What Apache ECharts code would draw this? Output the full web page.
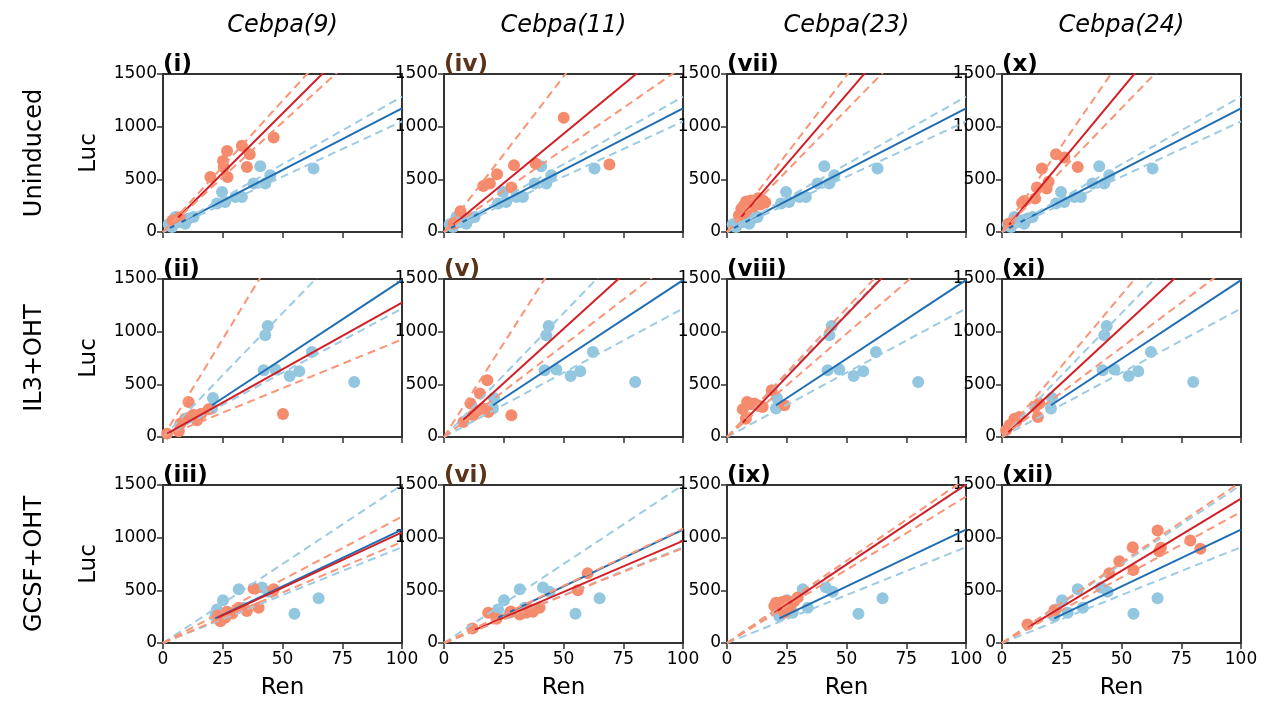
<!DOCTYPE html>
<html>
<head>
<meta charset="utf-8">
<script src="https://cdn.jsdelivr.net/npm/echarts@6/dist/echarts.min.js"></script>
<style>
  html, body { margin: 0; padding: 0; background: #fff; }
  #chart { width: 1271px; height: 715px; }
</style>
</head>
<body>
<div id="chart"></div>
<script>
// ---- data ----
const columns = ["Cebpa(9)", "Cebpa(11)", "Cebpa(23)", "Cebpa(24)"];
const rows = ["Uninduced", "IL3+OHT", "GCSF+OHT"];
const panelLabels = [
  ["(i)", "(iv)", "(vii)", "(x)"],
  ["(ii)", "(v)", "(viii)", "(xi)"],
  ["(iii)", "(vi)", "(ix)", "(xii)"],
];
const xTicks = [0, 25, 50, 75, 100];
const yTicks = [0, 500, 1000, 1500];

// control (blue) points, one set per row
const ctrlUninduced = [[2.4, 73], [3.8, 48], [5.2, 143], [6.6, 95], [8.6, 111], [9.3, 79], [10.7, 127], [12.8, 143],
  [22.6, 270], [24.7, 380], [26, 285], [30.3, 333], [33, 333], [37.9, 460], [40.7, 625], [42.8, 460], [44.9, 539], [63, 602]];
const ctrlIL3 = [[20.5, 270], [20.9, 371], [42.1, 634], [42.8, 967], [43.8, 1053], [47, 640], [53, 580], [57, 625], [62.3, 808], [80, 523]];
const ctrlGCSF = [[21.9, 255], [22.6, 319], [25.1, 405], [27.5, 287], [31.7, 511], [33.8, 335], [41.4, 527], [44.2, 486], [55, 278], [65.1, 424]];

// Cebpa (red) points, one set per panel
const c9Uninduced = [[4, 110], [7, 140], [19.8, 523], [25.1, 675], [25.4, 618], [26.8, 770], [27, 523], [33, 818], [35.1, 618], [36.3, 739], [46.3, 897]];
const c11Uninduced = [[4, 80], [6.9, 197], [16.4, 437], [19.2, 460], [22.2, 549], [28.2, 422], [29.3, 634], [38.3, 650], [50.1, 1084], [69.2, 640]];
const c23Uninduced = [[5, 160], [6, 220], [7, 250], [7, 180], [8, 200], [8, 290], [9, 260], [10, 300], [11, 240], [12, 280], [13, 320], [14, 260], [15, 300], [16, 280]];
const c24Uninduced = [[3, 80], [8.4, 276], [9.3, 295], [13.9, 317], [14.6, 422], [16.7, 602], [18.7, 412], [19.5, 476], [22.6, 739], [26.1, 707], [31.7, 618]];
const c9IL3 = [[1.7, 32], [6.6, 54], [7.3, 127], [9.3, 174], [10.7, 333], [11.5, 190], [12.8, 212], [14.2, 159], [16, 220], [19.1, 263], [50.2, 219]];
const c11IL3 = [[8.1, 143], [11.1, 317], [12.2, 206], [14, 250], [15, 412], [16.4, 270], [18.1, 539], [18.5, 238], [28.2, 206]];
const c23IL3 = [[6.6, 263], [7.9, 174], [8.4, 333], [10, 310], [11.4, 317], [13, 300], [14.9, 285], [18.7, 444], [24, 301]];
const c24IL3 = [[1.7, 63], [3.1, 111], [5.2, 174], [6, 150], [7.3, 190], [14, 290], [15, 190], [15.6, 317]];
const c9GCSF = [[23, 260], [24, 207], [26, 239], [26.8, 297], [29, 280], [31.7, 335], [35.1, 303], [37.9, 517], [40, 335], [46.3, 510]];
const c11GCSF = [[11.9, 137], [18.5, 287], [22, 230], [28, 300], [31.7, 271], [34.4, 287], [36, 320], [37.2, 297], [40, 335], [56, 501], [60.1, 661]];
const c23GCSF = [[19.8, 351], [20.5, 383], [21, 370], [22.6, 335], [23, 390], [24, 287], [24.7, 399], [25, 360], [26, 335], [27, 370], [28.2, 399], [29.6, 431]];
const c24GCSF = [[10.7, 176], [21.9, 310], [44.9, 661], [49.1, 776], [54.7, 910], [55, 693], [65.1, 1069], [65.8, 871], [66.5, 904], [78.8, 973], [83, 894]];

// fits: [slope, intercept, upper slope, lower slope]
const ctrlFits = [[11.7, 3, 12.85, 10.5], [14.95, -5, 23.5, 12.2], [10.8, -3, 15, 9.1]];
const cebpaFits = [
  [[22.6, -5, 24.9, 20.8], [18.7, -3, 29.5, 15.7], [26.4, -15, 29.7, 23.2], [27.3, -11, 32.9, 23.5]],
  [[12.65, 10, 37.2, 9.26], [20.6, -3, 35.6, 17.4], [23.6, -19, 24.4, 19.6], [21, -11, 27, 17]],
  [[10.5, 0, 12, 9.6], [9.7, 0, 10.85, 9.0], [15.2, -15, 15.6, 13.9], [13.7, 0, 15.3, 12.45]],
];

const ctrlPoints = [ctrlUninduced, ctrlIL3, ctrlGCSF];
const cebpaPoints = [
  [c9Uninduced, c11Uninduced, c23Uninduced, c24Uninduced],
  [c9IL3, c11IL3, c23IL3, c24IL3],
  [c9GCSF, c11GCSF, c23GCSF, c24GCSF],
];

// ---- layout / style ----
const FONT = "DejaVu Sans";
const lefts = [163, 444, 727, 1002];
const tops = [74, 279, 485];
const W = 239, H = 158;
const AXIS = "#333";
const RED_PT = "#f58b6d", BLUE_PT = "#93c6df";
const RED_LN = "#d21f26", BLUE_LN = "#1f6db3";
const RED_DS = "#fa9475", BLUE_DS = "#9ccbe3";
const labelColors = ["#000", "#5a3318", "#000", "#000"];

function fitLine(slope, intercept, x0) {
  return [[x0, slope * x0 + intercept], [100, slope * 100 + intercept]];
}
function minX(pts) {
  return Math.min(...pts.map(p => p[0]));
}

const grid = [], xAxis = [], yAxis = [], series = [], graphic = [];

rows.forEach((rowName, r) => {
  columns.forEach((colName, c) => {
    const i = grid.length;
    grid.push({
      left: lefts[c], top: tops[r], width: W, height: H,
      show: true, borderColor: AXIS, borderWidth: 2,
    });
    xAxis.push({
      gridIndex: i, type: "value", min: xTicks[0], max: xTicks[xTicks.length - 1],
      interval: xTicks[1] - xTicks[0],
      axisLine: { show: true, onZero: false, lineStyle: { color: AXIS, width: 2 } },
      axisTick: { show: true, length: 6, lineStyle: { color: AXIS, width: 1.5 } },
      axisLabel: { show: r === 2, color: "#000", fontSize: 17, fontFamily: FONT, margin: 8, formatter: v => String(v) },
      splitLine: { show: false },
      name: r === 2 ? "Ren" : "", nameLocation: "middle", nameGap: 34,
      nameTextStyle: { color: "#000", fontSize: 23, fontFamily: FONT },
    });
    yAxis.push({
      gridIndex: i, type: "value", min: yTicks[0], max: yTicks[yTicks.length - 1],
      interval: yTicks[1] - yTicks[0],
      axisLine: { show: true, onZero: false, lineStyle: { color: AXIS, width: 2 } },
      axisTick: { show: true, length: 6, lineStyle: { color: AXIS, width: 1.5 } },
      axisLabel: { color: "#000", fontSize: 17, fontFamily: FONT, margin: 6, formatter: v => String(v) },
      splitLine: { show: false },
      name: c === 0 ? "Luc" : "", nameLocation: "middle", nameGap: 62,
      nameTextStyle: { color: "#000", fontSize: 23, fontFamily: FONT },
    });

    const blue = ctrlPoints[r], red = cebpaPoints[r][c];
    const bf = ctrlFits[r], rf = cebpaFits[r][c];
    const base = { xAxisIndex: i, yAxisIndex: i, silent: true, animation: false };
    const lineBase = Object.assign({}, base, { type: "line", symbol: "none", clip: true, z: 3 });

    series.push(Object.assign({}, base, {
      type: "scatter", data: blue, symbolSize: 12, itemStyle: { color: BLUE_PT, opacity: 1 }, z: 1,
    }));
    series.push(Object.assign({}, base, {
      type: "scatter", data: red, symbolSize: 12, itemStyle: { color: RED_PT, opacity: 1 }, z: 1,
    }));
    series.push(Object.assign({}, lineBase, {
      data: fitLine(bf[0], bf[1], minX(blue)), lineStyle: { color: BLUE_LN, width: 2 },
    }));
    series.push(Object.assign({}, lineBase, {
      data: fitLine(bf[2], 0, 0), lineStyle: { color: BLUE_DS, width: 2, type: [8, 5] },
    }));
    series.push(Object.assign({}, lineBase, {
      data: fitLine(bf[3], 0, 0), lineStyle: { color: BLUE_DS, width: 2, type: [8, 5] },
    }));
    series.push(Object.assign({}, lineBase, {
      data: fitLine(rf[0], rf[1], minX(red)), lineStyle: { color: RED_LN, width: 2 },
    }));
    series.push(Object.assign({}, lineBase, {
      data: fitLine(rf[2], 0, 0), lineStyle: { color: RED_DS, width: 2, type: [8, 5] },
    }));
    series.push(Object.assign({}, lineBase, {
      data: fitLine(rf[3], 0, 0), lineStyle: { color: RED_DS, width: 2, type: [8, 5] },
    }));

    graphic.push({
      type: "text", x: lefts[c], y: tops[r] + 3,
      style: {
        text: panelLabels[r][c], font: "bold 23px " + FONT, fill: labelColors[c],
        align: "left", verticalAlign: "bottom",
      },
    });
  });
  graphic.push({
    type: "text", x: 35, y: tops[r] + H / 2, rotation: Math.PI / 2,
    style: { text: rowName, font: "24px " + FONT, fill: "#000", align: "center", verticalAlign: "middle" },
  });
});

columns.forEach((colName, c) => {
  graphic.push({
    type: "text", x: lefts[c] + W / 2, y: 26,
    style: { text: colName, font: "italic 24px " + FONT, fill: "#000", align: "center", verticalAlign: "middle" },
  });
});

const chart = echarts.init(document.getElementById("chart"));
chart.setOption({
  animation: false,
  backgroundColor: "#fff",
  grid, xAxis, yAxis, series, graphic,
});
</script>
</body>
</html>
